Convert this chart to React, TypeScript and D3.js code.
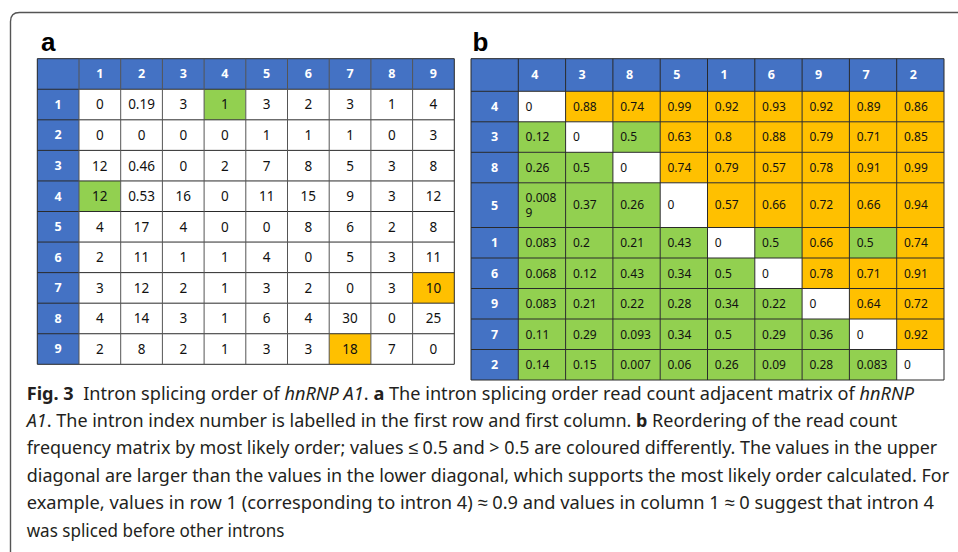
import * as d3 from 'd3';

// panel a: read count adjacency matrix, introns in natural order
const introns = ['1', '2', '3', '4', '5', '6', '7', '8', '9'];
const countRows = [
  [0, 0.19, 3, 1, 3, 2, 3, 1, 4],
  [0, 0, 0, 0, 1, 1, 1, 0, 3],
  [12, 0.46, 0, 2, 7, 8, 5, 3, 8],
  [12, 0.53, 16, 0, 11, 15, 9, 3, 12],
  [4, 17, 4, 0, 0, 8, 6, 2, 8],
  [2, 11, 1, 1, 4, 0, 5, 3, 11],
  [3, 12, 2, 1, 3, 2, 0, 3, 10],
  [4, 14, 3, 1, 6, 4, 30, 0, 25],
  [2, 8, 2, 1, 3, 3, 18, 7, 0],
];
const greenCellsA = [[0, 3], [3, 0]];
const orangeCellsA = [[6, 8], [8, 6]];

// panel b: frequency matrix reordered by most likely order
const order = ['4', '3', '8', '5', '1', '6', '9', '7', '2'];
const freqRows = [
  [0, 0.88, 0.74, 0.99, 0.92, 0.93, 0.92, 0.89, 0.86],
  [0.12, 0, 0.5, 0.63, 0.8, 0.88, 0.79, 0.71, 0.85],
  [0.26, 0.5, 0, 0.74, 0.79, 0.57, 0.78, 0.91, 0.99],
  [0.0089, 0.37, 0.26, 0, 0.57, 0.66, 0.72, 0.66, 0.94],
  [0.083, 0.2, 0.21, 0.43, 0, 0.5, 0.66, 0.5, 0.74],
  [0.068, 0.12, 0.43, 0.34, 0.5, 0, 0.78, 0.71, 0.91],
  [0.083, 0.21, 0.22, 0.28, 0.34, 0.22, 0, 0.64, 0.72],
  [0.11, 0.29, 0.093, 0.34, 0.5, 0.29, 0.36, 0, 0.92],
  [0.14, 0.15, 0.007, 0.06, 0.26, 0.09, 0.28, 0.083, 0],
];
const threshold = 0.5;

// caption, one entry per printed line; b = bold, i = italic
const caption = [
  [['Fig. 3', 'b'], ['  Intron splicing order of ', ''], ['hnRNP A1', 'i'], ['. ', ''], ['a', 'b'], [' The intron splicing order read count adjacent matrix of ', ''], ['hnRNP', 'i']],
  [['A1', 'i'], ['. The intron index number is labelled in the first row and first column. ', ''], ['b', 'b'], [' Reordering of the read count', '']],
  [['frequency matrix by most likely order; values \u2264 0.5 and > 0.5 are coloured differently. The values in the upper', '']],
  [['diagonal are larger than the values in the lower diagonal, which supports the most likely order calculated. For', '']],
  [['example, values in row 1 (corresponding to intron 4) \u2248 0.9 and values in column 1 \u2248 0 suggest that intron 4', '']],
  [['was spliced before other introns', '']],
];
const captionWidths = [888, 871, 911, 923, 908, 258];

const BLUE = '#4472C4';
const GREEN = '#92D050';
const ORANGE = '#FFC000';
const GRID = '#2a2a2a';
const FONT = '"Noto Sans", sans-serif';

const ctx = document.createElement('canvas').getContext('2d');
function measure(str: string, font: string) {
  if (!ctx) return str.length * 8;
  ctx.font = font;
  return ctx.measureText(str).width;
}
function wrap(str: string, font: string, maxW: number) {
  const lines: string[] = [];
  let cur = '';
  for (const ch of str) {
    if (cur && measure(cur + ch, font) > maxW) {
      lines.push(cur);
      cur = ch;
    } else cur += ch;
  }
  lines.push(cur);
  return lines;
}

function TableA() {
  const x = d3.scaleBand().domain(['', ...introns]).range([37.3, 454.3]);
  const y = d3.scaleBand().domain(['', ...introns]).range([58.7, 364.3]);
  const w = x.bandwidth(), h = y.bandwidth();
  const fillOf = (r: number, c: number) => {
    if (greenCellsA.some(([a, b]) => a === r && b === c)) return GREEN;
    if (orangeCellsA.some(([a, b]) => a === r && b === c)) return ORANGE;
    return '#fff';
  };
  return (
    <g>
      <text x={41} y={51} fontFamily='"Liberation Sans", Arial' fontWeight="bold" fontSize={26}>a</text>
      <rect x={x('')} y={y('')} width={w * 10} height={h} fill={BLUE} />
      <rect x={x('')} y={y('')} width={w} height={h * 10} fill={BLUE} />
      {countRows.map((row, r) =>
        row.map((v, c) => (
          <rect key={`${r}-${c}`} x={x(introns[c])} y={y(introns[r])} width={w} height={h} fill={fillOf(r, c)} />
        ))
      )}
      {d3.range(11).map(i => (
        <line key={'h' + i} x1={x('')} x2={x('')! + w * 10} y1={y('')! + h * i} y2={y('')! + h * i} stroke={GRID} strokeWidth={1} />
      ))}
      {d3.range(11).map(i => (
        <line key={'v' + i} y1={y('')} y2={y('')! + h * 10} x1={x('')! + w * i} x2={x('')! + w * i} stroke={i === 0 || i === 10 ? GRID : '#555'} strokeWidth={1} />
      ))}
      {introns.map(k => (
        <text key={'c' + k} x={x(k)! + w / 2} y={y('')! + h / 2} dy="0.35em" textAnchor="middle" fill="#fff" fontWeight="bold" fontFamily={FONT} fontSize={12.5}>{k}</text>
      ))}
      {introns.map(k => (
        <text key={'r' + k} x={x('')! + w / 2} y={y(k)! + h / 2} dy="0.35em" textAnchor="middle" fill="#fff" fontWeight="bold" fontFamily={FONT} fontSize={12.5}>{k}</text>
      ))}
      {countRows.map((row, r) =>
        row.map((v, c) => (
          <text key={`t${r}-${c}`} x={x(introns[c])! + w / 2} y={y(introns[r])! + h / 2} dy="0.36em" textAnchor="middle" fill="#111" fontFamily={FONT} fontSize={13.5}>{String(v)}</text>
        ))
      )}
    </g>
  );
}

function TableB() {
  const x = d3.scaleBand().domain(['', ...order]).range([471, 944]);
  const w = x.bandwidth();
  const pad = 7.3;
  const cellFont = `12px ${FONT}`;
  const lineH = 15;
  const headH = 32.6, rowH = 30.5;
  const wrapped = freqRows.map(row => row.map(v => wrap(String(v), cellFont, w - pad * 2)));
  const heights = wrapped.map(row => rowH + (d3.max(row, l => l.length)! - 1) * 14.2);
  const top = 58.7;
  const rowY = heights.map((_, i) => top + headH + d3.sum(heights.slice(0, i)));
  const bottom = top + headH + d3.sum(heights);
  const fillOf = (r: number, c: number) => (r === c ? '#fff' : freqRows[r][c] > threshold ? ORANGE : GREEN);
  return (
    <g>
      <text x={472.5} y={50.5} fontFamily='"Liberation Sans", Arial' fontWeight="bold" fontSize={26}>b</text>
      <rect x={x('')} y={top} width={w * 10} height={headH} fill={BLUE} />
      <rect x={x('')} y={top} width={w} height={bottom - top} fill={BLUE} />
      {freqRows.map((row, r) =>
        row.map((v, c) => (
          <rect key={`${r}-${c}`} x={x(order[c])} y={rowY[r]} width={w} height={heights[r]} fill={fillOf(r, c)} />
        ))
      )}
      {[top, ...rowY, bottom].map((yy, i) => (
        <line key={'h' + i} x1={x('')} x2={x('')! + w * 10} y1={yy} y2={yy} stroke={GRID} strokeWidth={1} />
      ))}
      {d3.range(11).map(i => (
        <line key={'v' + i} y1={top} y2={bottom} x1={x('')! + w * i} x2={x('')! + w * i} stroke={GRID} strokeWidth={1} />
      ))}
      {order.map(k => (
        <text key={'c' + k} x={x(k)! + 13} y={top + headH / 2} dy="0.35em" fill="#fff" fontWeight="bold" fontFamily={FONT} fontSize={12.5}>{k}</text>
      ))}
      {order.map((k, r) => (
        <text key={'r' + k} x={x('')! + w / 2} y={rowY[r] + heights[r] / 2} dy="0.35em" textAnchor="middle" fill="#fff" fontWeight="bold" fontFamily={FONT} fontSize={12.5}>{k}</text>
      ))}
      {wrapped.map((row, r) =>
        row.map((lines, c) => {
          const y0 = rowY[r] + heights[r] / 2 - ((lines.length - 1) * lineH) / 2;
          return lines.map((l, i) => (
            <text key={`t${r}-${c}-${i}`} x={x(order[c])! + pad} y={y0 + i * lineH} dy="0.36em" fill="#111" fontFamily={FONT} fontSize={12}>{l}</text>
          ));
        })
      )}
    </g>
  );
}

function Caption() {
  const y = d3.scaleLinear().domain([0, 5]).range([399.5, 536.5]);
  const size = 18.5;
  const fontOf = (s: string) => `${s === 'i' ? 'italic ' : ''}${s === 'b' ? 'bold ' : ''}${size}px ${FONT}`;
  return (
    <g fill="#231f20" fontFamily={FONT} fontSize={size}>
      {caption.map((segs, i) => {
        const natural = d3.sum(segs, ([t, s]) => measure(t, fontOf(s)));
        const sx = captionWidths[i] / natural;
        return (
          <text key={i} transform={`translate(26.7,${y(i)}) scale(${sx},1)`} style={{ whiteSpace: 'pre' }}>
            {segs.map(([t, s], j) => (
              <tspan key={j} fontWeight={s === 'b' ? 'bold' : 'normal'} fontStyle={s === 'i' ? 'italic' : 'normal'}>{t}</tspan>
            ))}
          </text>
        );
      })}
    </g>
  );
}

export default function App() {
  return (
    <svg width={958} height={552} style={{ position: 'absolute', left: 0, top: 0, background: '#fff' }}>
      <path d="M10.5,552 L10.5,21.5 Q10.5,12.5 19.5,12.5 L958,12.5" fill="none" stroke="#555" strokeWidth={1.4} />
      <TableA />
      <TableB />
      <Caption />
    </svg>
  );
}
